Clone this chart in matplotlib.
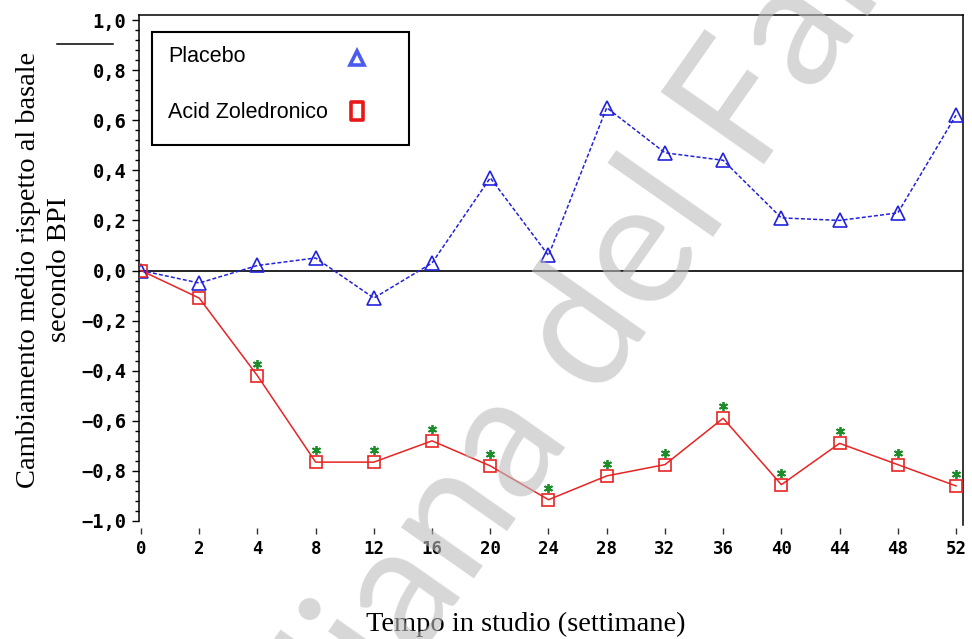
import numpy as np
import matplotlib
matplotlib.use("Agg")
import matplotlib.pyplot as plt
from matplotlib.ticker import FixedLocator, AutoMinorLocator, FuncFormatter
from matplotlib.lines import Line2D
from matplotlib.patches import Rectangle
from matplotlib.path import Path
from matplotlib.transforms import offset_copy

# --- data -------------------------------------------------------------------
weeks = ["0", "2", "4", "8", "12", "16", "20", "24", "28", "32", "36", "40", "44", "48", "52"]
placebo = [0.00, -0.05, 0.02, 0.05, -0.11, 0.03, 0.37, 0.06, 0.65, 0.47, 0.44, 0.21, 0.20, 0.23, 0.62]
zoledronic = [0.00, -0.11, -0.42, -0.765, -0.765, -0.68, -0.78, -0.915, -0.82, -0.775, -0.59, -0.855, -0.69, -0.775, -0.86]
signif = [False, False, True, True, True, True, True, True, True, True, True, True, True, True, True]
yticks = [-1.0, -0.8, -0.6, -0.4, -0.2, 0.0, 0.2, 0.4, 0.6, 0.8, 1.0]

BLUE = "#2222dd"
RED = "#e82424"
GREEN = "#1e8c2a"

W, H = 972, 639
fig = plt.figure(figsize=(W / 100, H / 100), dpi=100)
ax = fig.add_axes([139 / W, 1 - 525 / H, 824 / W, 510 / H])

x = np.arange(len(weeks))

ax.axhline(0, color="black", lw=1.2, zorder=1)
ax.plot(x, placebo, color=BLUE, lw=1.1, ls=(0, (2.6, 1.4)), zorder=2)
ax.plot(x, placebo, ls="none", marker="^", ms=9.5, mfc="none", mec=BLUE, mew=1.2, zorder=3)
ax.plot(x, zoledronic, color=RED, lw=1.1, zorder=2)
ax.plot(x, zoledronic, ls="none", marker="s", ms=9, mfc="none", mec=RED, mew=1.2, zorder=3)

# significance stars above the zoledronic points
star_tr = offset_copy(ax.transData, fig=fig, y=12, units="dots")
sx = [xi for xi, s in zip(x, signif) if s]
sy = [v for v, s in zip(zoledronic, signif) if s]
ax.plot(sx, sy, ls="none", marker=(6, 2, 0), ms=6.5, mec=GREEN, mew=1.3,
        transform=star_tr, zorder=3)

ax.set_xlim(-0.034, 14.12)
ax.set_ylim(-1.016, 1.02)

ax.xaxis.set_major_locator(FixedLocator(x))
ax.set_xticklabels(weeks)
ax.yaxis.set_major_locator(FixedLocator(yticks))
ax.yaxis.set_minor_locator(AutoMinorLocator(5))
ax.yaxis.set_major_formatter(FuncFormatter(
    lambda v, p: ("\u2212" if v < -1e-9 else "") + f"{abs(v):.1f}".replace(".", ",")))

ax.spines["bottom"].set_visible(False)
ax.spines["bottom"].set_position(("outward", 2))
ax.spines["left"].set_bounds(-1.0, 1.02)
for s in ("left", "top", "right"):
    ax.spines[s].set_linewidth(1.1)

ax.tick_params(axis="x", length=4, width=1, pad=5, labelsize=12.5, color="#333333")
ax.tick_params(axis="y", which="major", length=5, width=1, pad=4, labelsize=13.5)
ax.tick_params(axis="y", which="minor", length=3, width=1)
for lab in ax.get_xticklabels() + ax.get_yticklabels():
    lab.set_fontfamily("DejaVu Sans Mono")
    lab.set_fontweight("bold")

# axis titles
serif = ["Liberation Serif", "DejaVu Serif"]
fig.text(526 / W, 1 - 624 / H, "Tempo in studio (settimane)", family=serif,
         fontsize=20.5, ha="center", va="center")
fig.text(44 / W, 1 - 270 / H, "Cambiamento medio rispetto al basale\nsecondo BPI",
         family=serif, fontsize=20.5, rotation=90, ha="center", va="center",
         multialignment="center", linespacing=1.35)

# small stray rule left of the top tick label
fig.add_artist(Line2D([57 / W, 113 / W], [1 - 44 / H, 1 - 44 / H], color="black", lw=1.1))

# legend box
def fx(px):
    return px / W

def fy(py):
    return 1 - py / H

fig.add_artist(Rectangle((fx(152), fy(145)), fx(409) - fx(152), fy(32) - fy(145),
                         transform=fig.transFigure, fill=False, ec="black", lw=1.5, zorder=5))
sans = ["Liberation Sans", "DejaVu Sans"]
fig.text(fx(168), fy(57), "Placebo", family=sans, fontsize=15.5, va="center", ha="left")
fig.text(fx(168), fy(113), "Acid Zoledronico", family=sans, fontsize=15.5, va="center", ha="left")
tall_rect = Path([(-0.35, -0.5), (0.35, -0.5), (0.35, 0.5), (-0.35, 0.5), (-0.35, -0.5)],
                 [Path.MOVETO, Path.LINETO, Path.LINETO, Path.LINETO, Path.CLOSEPOLY])
fig.add_artist(Line2D([fx(357)], [fy(58)], marker="^", ms=9.5, mfc="none", mec="#4a5cf0",
                      mew=2.6, transform=fig.transFigure))
fig.add_artist(Line2D([fx(357)], [fy(111)], marker=tall_rect, ms=13, mfc="none", mec="#e81818",
                      mew=2.6, transform=fig.transFigure))

# watermark
fig.text(fx(470), fy(500), "Agenzia Italiana del Farmaco", family=["Lato", "DejaVu Sans"],
         fontsize=125, color="#bcbcbc", alpha=0.6, rotation=55, rotation_mode="anchor",
         ha="center", va="center", zorder=10)

fig.savefig("out.png", dpi=100)
